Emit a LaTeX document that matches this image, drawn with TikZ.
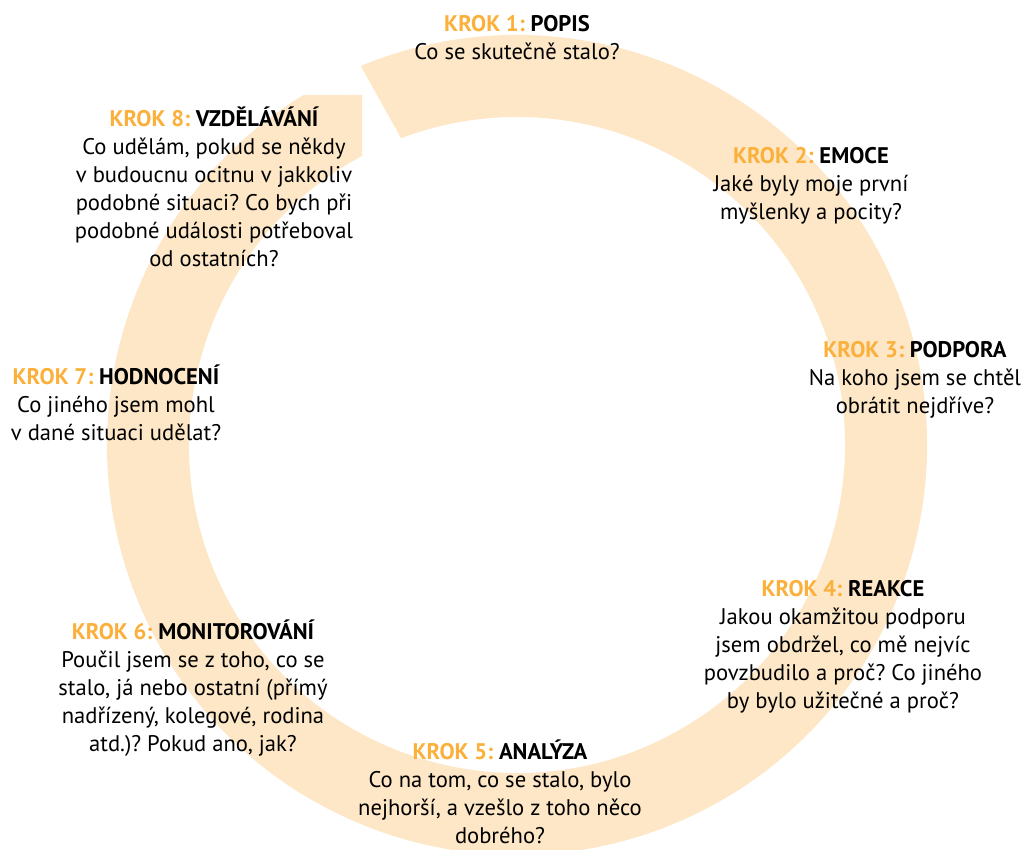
\documentclass[tikz,border=0pt]{standalone}
\usepackage{fontspec}
\setmainfont{PT Sans}
\usepackage{xcolor}
\usepackage{tikz}
\usetikzlibrary{calc}
\definecolor{ringfill}{RGB}{253,231,198}
\definecolor{krokorange}{RGB}{251,176,59}
\tikzset{
  ring/.style={fill=ringfill,draw=none},
  steptext/.style={align=center,inner sep=0pt,font=\fontsize{22.6}{28}\selectfont}
}
\newcommand{\krok}[2]{{\bfseries\textcolor{krokorange}{KROK #1:} #2}}
\frenchspacing

\begin{document}
\begin{tikzpicture}[x=1pt,y=1pt]
\useasboundingbox (0,0) rectangle (1029,850);
\coordinate (c) at (517,405);
\fill[ring] ($(c)+(112.4:410)$) arc[start angle=112.4,end angle=-238.6,radius=410] -- (362,755)
  -- ($(c)+(-241.8:328)$) arc[start angle=-241.8,end angle=110.7,radius=328] -- cycle;
\node[steptext] (step1) at (517,812) {\krok{1}{POPIS}\\Co se skutečně stalo?};
\node[steptext] (step2) at (811,664) {\krok{2}{EMOCE}\\Jaké byly moje první\\myšlenky a pocity?};
\node[steptext] (step3) at (915,470) {\krok{3}{PODPORA}\\Na koho jsem se chtěl\\obrátit nejdříve?};
\node[steptext] (step4) at (843,203) {\krok{4}{REAKCE}\\Jakou okamžitou podporu\\jsem obdržel, co mě nejvíc\\povzbudilo a proč? Co jiného\\by bylo užitečné a proč?};
\node[steptext] (step5) at (500,58) {\krok{5}{ANALÝZA}\\Co na tom, co se stalo, bylo\\nejhorší, a vzešlo z toho něco\\dobrého?};
\node[steptext] (step6) at (193,162) {\krok{6}{MONITOROVÁNÍ}\\Poučil jsem se z toho, co se\\stalo, já nebo ostatní (přímý\\nadřízený, kolegové, rodina\\atd.)? Pokud ano, jak?};
\node[steptext] (step7) at (116,447) {\krok{7}{HODNOCENÍ}\\Co jiného jsem mohl\\v dané situaci udělat?};
\node[steptext] (step8) at (214,663) {\krok{8}{VZDĚLÁVÁNÍ}\\Co udělám, pokud se někdy\\v budoucnu ocitnu v jakkoliv\\podobné situaci? Co bych při\\podobné události potřeboval\\od ostatních?};
\end{tikzpicture}
\end{document}
